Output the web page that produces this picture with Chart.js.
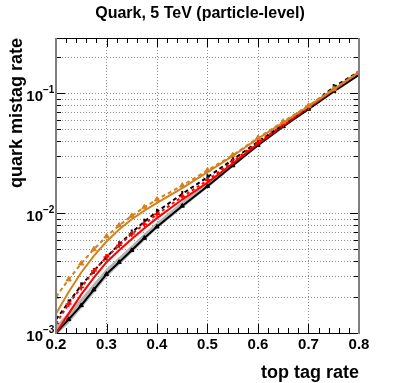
<!DOCTYPE html>
<html>
<head>
<meta charset="utf-8">
<script src="https://cdn.jsdelivr.net/npm/chart.js@4/dist/chart.umd.min.js"></script>
<style>
html, body { margin: 0; padding: 0; background: #fff; }
</style>
</head>
<body>
<canvas id="c" width="399" height="383"></canvas>
<script>
// top tag rate (x) and quark mistag rate (y)
var xs          = [0.2, 0.225, 0.25, 0.275, 0.3, 0.325, 0.35, 0.375, 0.4, 0.45, 0.5, 0.55, 0.6, 0.65, 0.7, 0.75, 0.8]
var blackSolid  = [1.0e-3, 1.3e-3, 1.7e-3, 2.3e-3, 3.1e-3, 3.9e-3, 4.9e-3, 6.2e-3, 7.7e-3, 1.15e-2, 1.68e-2, 2.5e-2, 3.7e-2, 5.3e-2, 7.4e-2, 0.104, 0.143]
var bandHi      = [1.15e-3, 1.5e-3, 1.95e-3, 2.6e-3, 3.45e-3, 4.3e-3, 5.4e-3, 6.8e-3, 8.4e-3, 1.25e-2, 1.8e-2, 2.65e-2, 3.9e-2, 5.5e-2, 7.7e-2, 0.107, 0.147]
var bandLo      = [0.95e-3, 1.2e-3, 1.6e-3, 2.15e-3, 2.9e-3, 3.7e-3, 4.65e-3, 5.9e-3, 7.4e-3, 1.1e-2, 1.62e-2, 2.42e-2, 3.6e-2, 5.15e-2, 7.25e-2, 0.101, 0.14]
var redSolid    = [1.0e-3, 1.45e-3, 2.1e-3, 2.9e-3, 3.9e-3, 4.9e-3, 6.1e-3, 7.5e-3, 9.1e-3, 1.3e-2, 1.8e-2, 2.6e-2, 3.8e-2, 5.4e-2, 7.6e-2, 0.107, 0.15]
var redDashed   = [1.2e-3, 1.75e-3, 2.4e-3, 3.3e-3, 4.3e-3, 5.4e-3, 6.7e-3, 8.1e-3, 9.8e-3, 1.37e-2, 1.88e-2, 2.7e-2, 3.9e-2, 5.5e-2, 7.7e-2, 0.108, 0.15]
var blackDashed = [1.3e-3, 1.8e-3, 2.5e-3, 3.3e-3, 4.3e-3, 5.5e-3, 6.9e-3, 8.5e-3, 1.03e-2, 1.45e-2, 2.0e-2, 2.8e-2, 3.95e-2, 5.5e-2, 7.7e-2, 0.113, 0.152]
var orangeSolid = [1.45e-3, 2.2e-3, 3.2e-3, 4.4e-3, 5.8e-3, 7.3e-3, 8.9e-3, 1.05e-2, 1.22e-2, 1.62e-2, 2.2e-2, 3.0e-2, 4.2e-2, 5.7e-2, 7.8e-2, 0.108, 0.15]
var orangeDashed= [2.0e-3, 2.8e-3, 3.8e-3, 5.0e-3, 6.4e-3, 7.9e-3, 9.5e-3, 1.12e-2, 1.3e-2, 1.7e-2, 2.28e-2, 3.05e-2, 4.25e-2, 5.8e-2, 7.9e-2, 0.109, 0.15]

// axis ticks
var xTicks = [0.2, 0.3, 0.4, 0.5, 0.6, 0.7, 0.8]
var xTickLabels = ['0.2', '0.3', '0.4', '0.5', '0.6', '0.7', '0.8']
var yTicks = [0.001, 0.002, 0.003, 0.004, 0.005, 0.006, 0.007, 0.008, 0.009,
              0.01, 0.02, 0.03, 0.04, 0.05, 0.06, 0.07, 0.08, 0.09, 0.1, 0.2]
var yMajor = [0.001, 0.01, 0.1]
var yMajorLabels = ['\u22123', '\u22122', '\u22121']

var ORANGE = '#d2821e'
var FONT = '"Liberation Sans", Arial, sans-serif'

function pts(ys) {
    return xs.map((x, i) => ({ x: x, y: ys[i] }))
}

//Dotted ROOT style grid, under the curves
var rootGrid = {
    id: 'rootGrid',
    beforeDatasetsDraw: (chart) => {
        let ctx = chart.ctx
        let a = chart.chartArea
        let sx = chart.scales.x
        let sy = chart.scales.y
        ctx.save()
        ctx.strokeStyle = '#8c8c8c'
        ctx.lineWidth = 1
        ctx.setLineDash([1, 2])
        ctx.beginPath()
        xTicks.forEach((v) => {
            let px = Math.round(sx.getPixelForValue(v)) + 0.5
            ctx.moveTo(px, a.top); ctx.lineTo(px, a.bottom)
        })
        yTicks.forEach((v) => {
            let py = Math.round(sy.getPixelForValue(v)) + 0.5
            ctx.moveTo(a.left, py); ctx.lineTo(a.right, py)
        })
        ctx.stroke()
        ctx.restore()
    }
}

//Draws the frame, inside ticks and all the text
var rootDeco = {
    id: 'rootDeco',
    afterDraw: (chart) => {
        let ctx = chart.ctx
        let a = chart.chartArea
        let sx = chart.scales.x
        let sy = chart.scales.y
        ctx.save()

        // tick marks
        ctx.strokeStyle = '#000'
        ctx.lineWidth = 1
        ctx.beginPath()
        for (let i = 0; i <= 30; i++) {
            let px = Math.round(sx.getPixelForValue(0.2 + i * 0.02)) + 0.5
            let len = (i % 5 == 0) ? 9 : 5
            ctx.moveTo(px, a.bottom); ctx.lineTo(px, a.bottom - len)
            ctx.moveTo(px, a.top); ctx.lineTo(px, a.top + len)
        }
        yTicks.forEach((v) => {
            let py = Math.round(sy.getPixelForValue(v)) + 0.5
            let len = yMajor.indexOf(v) >= 0 ? 9 : 5
            ctx.moveTo(a.left, py); ctx.lineTo(a.left + len, py)
            ctx.moveTo(a.right, py); ctx.lineTo(a.right - len, py)
        })
        ctx.stroke()

        // frame
        ctx.lineWidth = 1
        ctx.strokeStyle = '#000'
        ctx.beginPath()
        ctx.moveTo(a.left, a.top + 0.5); ctx.lineTo(a.right, a.top + 0.5)
        ctx.moveTo(a.left, a.bottom + 0.5); ctx.lineTo(a.right, a.bottom + 0.5)
        ctx.stroke()
        ctx.lineWidth = 2
        ctx.strokeStyle = '#808080'
        ctx.beginPath()
        ctx.moveTo(a.left, a.top); ctx.lineTo(a.left, a.bottom + 1)
        ctx.moveTo(a.right, a.top); ctx.lineTo(a.right, a.bottom + 1)
        ctx.stroke()

        // x tick labels
        ctx.fillStyle = '#000'
        ctx.font = 'bold 15px ' + FONT
        ctx.textAlign = 'center'
        ctx.textBaseline = 'alphabetic'
        xTicks.forEach((v, i) => {
            ctx.fillText(xTickLabels[i], sx.getPixelForValue(v), a.bottom + 16)
        })

        // y tick labels: 10 with superscript exponent
        yMajor.forEach((v, i) => {
            let py = sy.getPixelForValue(v)
            ctx.font = 'bold 15px ' + FONT
            ctx.textAlign = 'right'
            ctx.textBaseline = 'alphabetic'
            ctx.fillText('10', 43, py + 8)
            ctx.font = 'bold 10px ' + FONT
            ctx.textAlign = 'left'
            ctx.fillText(yMajorLabels[i], 43, py)
        })

        // title and axis titles
        ctx.font = 'bold 16px ' + FONT
        ctx.textAlign = 'center'
        ctx.textBaseline = 'alphabetic'
        ctx.fillText('Quark, 5 TeV (particle-level)', 200, 18)

        ctx.font = 'bold 18px ' + FONT
        ctx.textAlign = 'right'
        ctx.fillText('top tag rate', a.right, 378)

        ctx.translate(22, a.top)
        ctx.rotate(-Math.PI / 2)
        ctx.textAlign = 'right'
        ctx.fillText('quark mistag rate', 0, 0)
        ctx.restore()
    }
}

new Chart(document.getElementById('c'), {
    type: 'line',
    data: {
        datasets: [
            {
                data: pts(bandHi), fill: '+1', backgroundColor: '#b4b4b4',
                borderWidth: 0, pointRadius: 0, order: 10
            },
            {
                data: pts(bandLo), fill: false, borderWidth: 0, pointRadius: 0, order: 10
            },
            {
                data: pts(blackSolid), borderColor: '#000', backgroundColor: '#000', borderWidth: 2,
                pointStyle: 'triangle', pointRadius: 2.5, pointBorderWidth: 1, order: 5
            },
            {
                data: pts(redSolid), borderColor: '#ff0000', borderWidth: 2, pointRadius: 0, order: 4
            },
            {
                data: pts(blackDashed), borderColor: '#000', backgroundColor: '#000', borderWidth: 2,
                borderDash: [4, 3], pointStyle: 'line', pointRotation: 90, pointRadius: 3,
                pointBorderWidth: 2, order: 3
            },
            {
                data: pts(redDashed), borderColor: '#ff0000', backgroundColor: '#ff0000', borderWidth: 2,
                borderDash: [3, 3], pointStyle: 'cross', pointRadius: 3, pointBorderWidth: 1.5, order: 2
            },
            {
                data: pts(orangeSolid), borderColor: ORANGE, borderWidth: 2, pointRadius: 0, order: 1
            },
            {
                data: pts(orangeDashed), borderColor: ORANGE, backgroundColor: ORANGE, borderWidth: 2,
                borderDash: [4, 3], pointStyle: 'triangle', pointRadius: 3, pointBorderWidth: 1, order: 0
            }
        ]
    },
    options: {
        responsive: false,
        animation: false,
        layout: { padding: { left: 56, right: 40, top: 38, bottom: 50 } },
        plugins: {
            legend: { display: false },
            tooltip: { enabled: false }
        },
        elements: { line: { tension: 0 } },
        scales: {
            x: {
                type: 'linear', min: 0.2, max: 0.8,
                ticks: { display: false, stepSize: 0.1 },
                grid: { display: false, drawTicks: false },
                border: { display: false }
            },
            y: {
                type: 'logarithmic', min: 0.001, max: 0.29,
                afterBuildTicks: (scale) => {
                    scale.ticks = yTicks.map((v) => ({ value: v }))
                },
                ticks: { display: false },
                grid: { display: false, drawTicks: false },
                border: { display: false }
            }
        }
    },
    plugins: [rootGrid, rootDeco]
})
</script>
</body>
</html>
